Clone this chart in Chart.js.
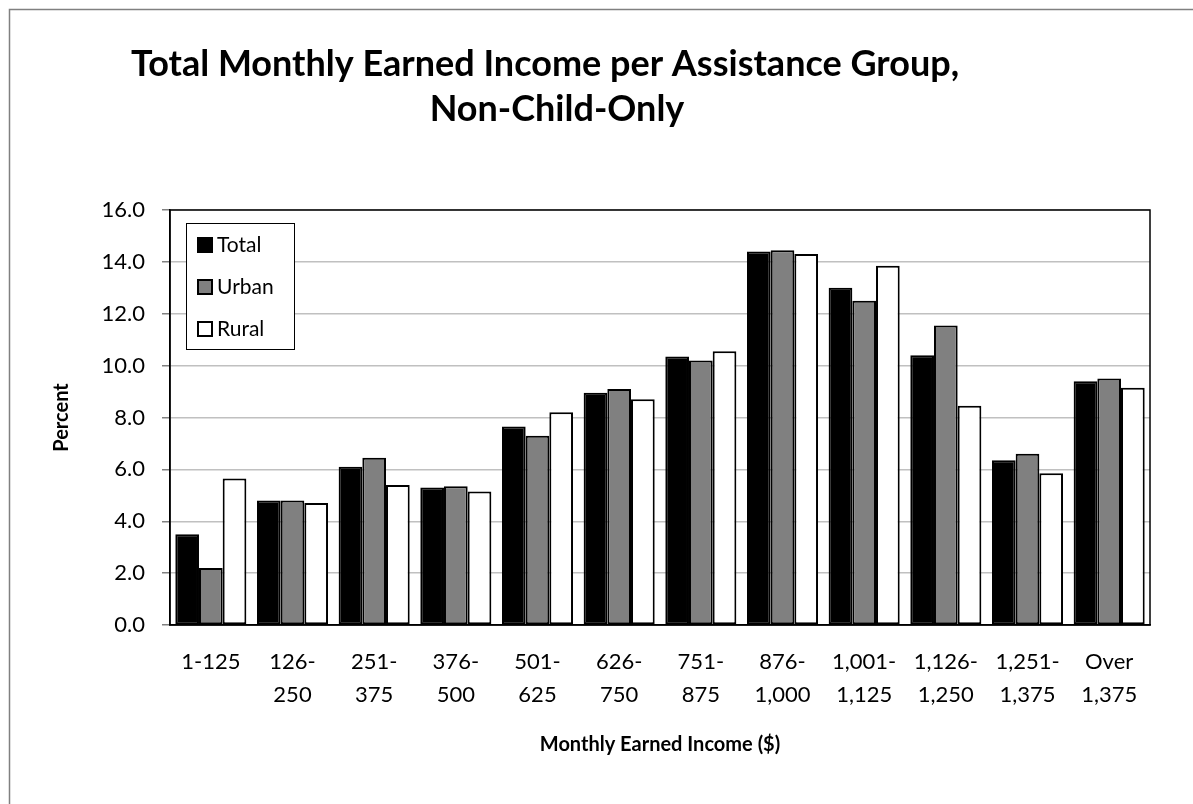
<!DOCTYPE html>
<html>
<head>
<meta charset="utf-8">
<script src="https://cdn.jsdelivr.net/npm/chart.js@4.4.1/dist/chart.umd.min.js"></script>
<style>
  body { margin: 0; background: #fff; }
  #wrap { width: 1193px; height: 804px; }
</style>
</head>
<body>
<div id="wrap"><canvas id="incomeChart" width="1193" height="804"></canvas></div>
<script>
// Data
var categories = [
  ['1-125'], ['126-', '250'], ['251-', '375'], ['376-', '500'],
  ['501-', '625'], ['626-', '750'], ['751-', '875'], ['876-', '1,000'],
  ['1,001-', '1,125'], ['1,126-', '1,250'], ['1,251-', '1,375'], ['Over', '1,375']
];
var totalValues = [3.5, 4.8, 6.1, 5.3, 7.65, 8.95, 10.35, 14.4, 13.0, 10.4, 6.35, 9.4];
var urbanValues = [2.2, 4.8, 6.45, 5.35, 7.3, 9.1, 10.2, 14.45, 12.5, 11.55, 6.6, 9.5];
var ruralValues = [5.65, 4.7, 5.4, 5.15, 8.2, 8.7, 10.55, 14.3, 13.85, 8.45, 5.85, 9.15];
var seriesNames = ['Total', 'Urban', 'Rural'];
var titleLines = ['Total Monthly Earned Income per Assistance Group,', 'Non-Child-Only'];
var xTitle = 'Monthly Earned Income ($)';
var yTitle = 'Percent';

var FONT = 'Lato, "Open Sans", sans-serif';

// frame round the whole picture and the title
var framePlugin = {
  id: 'frame',
  beforeDraw: function(chart) {
    var ctx = chart.ctx;
    ctx.save();
    ctx.fillStyle = '#fff';
    ctx.fillRect(0, 0, chart.width, chart.height);
    ctx.strokeStyle = '#808080';
    ctx.lineWidth = 1.5;
    ctx.beginPath();
    ctx.moveTo(9.5, chart.height + 5);
    ctx.lineTo(9.5, 9.5);
    ctx.lineTo(chart.width + 5, 9.5);
    ctx.stroke();

    ctx.fillStyle = '#000';
    ctx.font = 'bold 36px ' + FONT;
    ctx.textAlign = 'center';
    ctx.textBaseline = 'alphabetic';
    ctx.fillText(titleLines[0], 545, 76);
    ctx.fillText(titleLines[1], 557, 121);
    ctx.restore();
  },
  afterDatasetsDraw: function(chart) {
    var a = chart.chartArea;
    var ctx = chart.ctx;
    ctx.save();
    ctx.strokeStyle = '#000';
    ctx.lineWidth = 1.5;
    ctx.strokeRect(a.left, a.top, a.right - a.left, a.bottom - a.top);
    ctx.restore();
  }
};

// legend box inside the plot, top left
var boxLegend = {
  id: 'boxLegend',
  afterDraw: function(chart) {
    var ctx = chart.ctx;
    var a = chart.chartArea;
    var x = a.left + 16, y = a.top + 13;
    ctx.save();
    ctx.fillStyle = '#fff';
    ctx.fillRect(x, y, 108, 126);
    ctx.strokeStyle = '#000';
    ctx.lineWidth = 1;
    ctx.strokeRect(x + 0.5, y + 0.5, 108, 126);
    ctx.font = '21px ' + FONT;
    ctx.textBaseline = 'middle';
    chart.data.datasets.forEach(function(ds, i) {
      var cy = y + 22 + i * 42;
      ctx.fillStyle = ds.backgroundColor;
      ctx.fillRect(x + 12, cy - 7, 14, 14);
      ctx.strokeStyle = '#000';
      ctx.lineWidth = 2;
      ctx.strokeRect(x + 12, cy - 7, 14, 14);
      ctx.fillStyle = '#000';
      ctx.fillText(ds.label, x + 31, cy);
    });
    ctx.restore();
  }
};

function makeSet(label, values, color) {
  return {
    label: label,
    data: values,
    backgroundColor: color,
    borderColor: '#000',
    borderWidth: 2,
    borderSkipped: false,
    categoryPercentage: 0.87,
    barPercentage: 1.0
  };
}

var ctx = document.getElementById('incomeChart');
var incomeChart = new Chart(ctx, {
  type: 'bar',
  data: {
    labels: categories,
    datasets: [
      makeSet(seriesNames[0], totalValues, '#000000'),
      makeSet(seriesNames[1], urbanValues, '#808080'),
      makeSet(seriesNames[2], ruralValues, '#ffffff')
    ]
  },
  options: {
    responsive: false,
    animation: false,
    layout: { padding: { left: 0, top: 210, right: 43, bottom: 40 } },
    plugins: {
      legend: { display: false },
      title: { display: false },
      tooltip: { enabled: false }
    },
    scales: {
      x: {
        grid: { display: false },
        border: { display: true, color: '#000', width: 1.5 },
        ticks: {
          color: '#000',
          font: { family: FONT, size: 22, lineHeight: 1.5 },
          maxRotation: 0,
          autoSkip: false,
          padding: 12
        },
        title: {
          display: true,
          text: xTitle,
          color: '#000',
          font: { family: FONT, size: 20, weight: 'bold' },
          padding: { top: 0, bottom: 7 }
        },
        afterFit: function(scale) { scale.height = 139; }
      },
      y: {
        min: 0,
        max: 16,
        grid: { color: '#c0c0c0', lineWidth: 1.5, tickLength: 8, tickColor: '#808080' },
        border: { display: true, color: '#000', width: 1.5 },
        ticks: {
          stepSize: 2,
          color: '#000',
          padding: 17,
          font: { family: FONT, size: 22 },
          callback: function(v) { return v.toFixed(1); }
        },
        title: {
          display: true,
          text: yTitle,
          color: '#000',
          font: { family: FONT, size: 20, weight: 'bold' },
          padding: { top: 50, bottom: 0 }
        },
        afterFit: function(scale) { scale.width = 170; }
      }
    }
  },
  plugins: [framePlugin, boxLegend]
});
</script>
</body>
</html>
